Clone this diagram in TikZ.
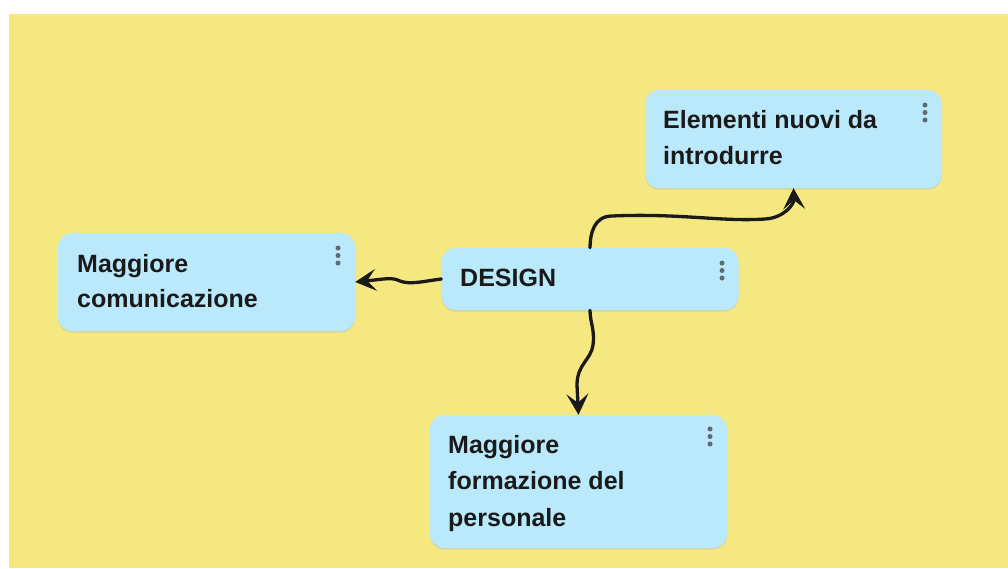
\documentclass[tikz,border=0pt]{standalone}
\usepackage{fontspec}
\setmainfont{Liberation Sans}
\usetikzlibrary{arrows.meta}
\definecolor{board}{HTML}{F6E880}
\definecolor{card}{HTML}{BAE9FC}
\definecolor{cardshade}{HTML}{D8D49A}
\definecolor{ink}{HTML}{1A1A1A}
\definecolor{dotgrey}{HTML}{5F6B73}
\tikzset{
  cardbox/.style={rectangle, rounded corners=14pt, fill=card, inner sep=0pt,
    minimum width=297pt,
    preaction={fill=cardshade, transform canvas={yshift=-1.5pt}}},
  % anchored at the baseline of the last line
  cardtext/.style={anchor=base west, inner sep=0pt, align=left, text=ink,
    font=\fontsize{25}{35.5}\selectfont\bfseries},
  menudot/.style={circle, fill=dotgrey, inner sep=0pt, minimum size=5pt},
  link/.style={color=ink, line width=3.3pt, line cap=round, line join=round,
    -{Stealth[length=21pt, width=22pt, inset=9pt, line width=1pt]}},
}
\begin{document}
\begin{tikzpicture}[x=1pt, y=-1pt]
  % page and board
  \fill[white] (0,0) rectangle (1008,568);
  \fill[board] (9,14) rectangle (1008,568);
  \useasboundingbox (0,0) rectangle (1008,568);

  % cards
  \node[cardbox, minimum height=98pt]  (elem)   at (793.5,139)   {};
  \node[cardbox, minimum height=98pt]  (comm)   at (206.5,282)   {};
  \node[cardbox, minimum height=62pt]  (design) at (590,279)     {};
  \node[cardbox, minimum height=133pt] (staff)  at (578.5,481.5) {};

  % card texts
  \node[cardtext] (elemT)   at (663,164)   {Elementi nuovi da\\introdurre};
  \node[cardtext] (commT)   at (77,307.5)  {Maggiore\\comunicazione};
  \node[cardtext] (designT) at (460,286)   {DESIGN};
  \node[cardtext, font=\fontsize{25}{36.5}\selectfont\bfseries]
    (staffT) at (448,526) {Maggiore\\formazione del\\personale};

  % menu dots in each card corner
  \foreach \c/\x/\y in {elem/925/105, comm/338/248, design/722/263, staff/710/429} {
    \node[menudot] (\c d1) at (\x,\y) {};
    \node[menudot] (\c d2) at (\x,\y+7.5) {};
    \node[menudot] (\c d3) at (\x,\y+15) {};
  }

  % connectors
  \draw[link] (design.north) .. controls +(0,-14) and (594,216) .. (612,216)
    .. controls (680,213) and (722,222) .. (765,219)
    .. controls (784,218) and (794,204) .. (elem.south);
  \draw[link] (design.south) .. controls +(0,12) and (595,330) .. (593,345)
    .. controls (591,360) and (577,364) .. (577,385)
    -- (staff.north);
  \draw[link] (design.west) .. controls (425,281) and (410,285) .. (400,281)
    .. controls (392,277) and (385,279) .. (comm.east);
\end{tikzpicture}
\end{document}
